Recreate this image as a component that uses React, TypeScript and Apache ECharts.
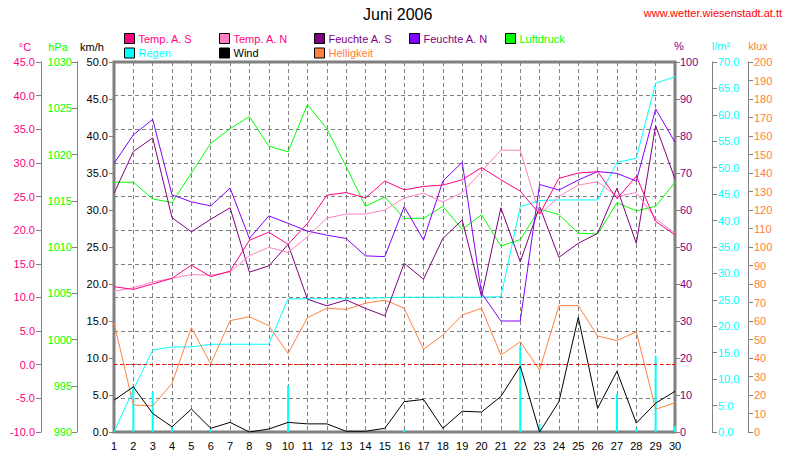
import React, { useEffect, useRef } from "react";
import * as echarts from "echarts";

const days = ["1","2","3","4","5","6","7","8","9","10","11","12","13","14","15","16","17","18","19","20","21","22","23","24","25","26","27","28","29","30"];

const tempAS = [11.6, 11.2, 12.0, 12.85, 14.8, 13.1, 13.9, 18.5, 19.7, 17.9, 21.0, 25.2, 25.6, 24.8, 27.3, 26.0, 26.5, 26.7, 27.5, 29.3, 27.5, 25.8, 22.4, 27.7, 28.5, 28.7, 24.7, 28.0, 21.3, 19.3];
const tempAN = [10.9, 11.45, 12.3, 12.85, 13.4, 13.3, 13.8, 16.2, 17.45, 16.7, 19.0, 21.8, 22.4, 22.4, 23.0, 24.8, 25.5, 24.2, 25.6, 28.7, 31.9, 31.9, 22.3, 25.0, 26.7, 27.2, 25.0, 25.6, 21.7, 19.5];
const feuchteAS = [64.5, 75.8, 79.5, 57.9, 54.1, 57.5, 60.6, 43.2, 44.9, 50.7, 35.9, 34.1, 35.7, 33.4, 31.4, 45.6, 41.3, 52.3, 57.3, 36.6, 60.6, 46.0, 60.9, 47.2, 51.0, 53.7, 65.9, 51.0, 82.8, 68.4];
const feuchteAN = [72.6, 80.3, 84.5, 64.1, 62.2, 61.1, 65.9, 52.3, 58.4, 56.4, 54.3, 53.2, 52.3, 47.6, 47.4, 60.9, 51.9, 67.8, 72.9, 37.5, 30.0, 30.0, 66.9, 65.4, 68.1, 70.4, 69.9, 67.8, 87.3, 78.3];
const luftdruck = [1017.0, 1017.0, 1015.2, 1014.8, 1018.0, 1021.2, 1022.8, 1024.1, 1020.9, 1020.3, 1025.4, 1022.8, 1018.7, 1014.4, 1015.4, 1013.1, 1013.1, 1014.4, 1011.9, 1013.5, 1010.1, 1010.8, 1014.1, 1013.5, 1011.5, 1011.4, 1014.8, 1013.9, 1014.4, 1017.0];
const regenSumme = [0, 8.0, 15.5, 16.1, 16.1, 16.6, 16.6, 16.6, 16.6, 25.2, 25.2, 25.2, 25.2, 25.3, 25.4, 25.5, 25.5, 25.5, 25.5, 25.5, 25.6, 42.6, 43.8, 43.9, 43.9, 43.9, 51.0, 51.8, 66.0, 67.2];
const regenTag = [0, 8.6, 7.6, 0.9, 0, 0.5, 0, 0, 0, 8.8, 0, 0, 0, 0, 0, 0.4, 0, 0, 0, 0, 0, 16.3, 1.5, 0, 0, 0, 7.2, 0.8, 14.4, 1.1];
const wind = [4.3, 6.1, 2.5, 0.7, 3.1, 0.5, 1.3, 0, 0.4, 1.3, 1.1, 1.1, 0.1, 0.1, 0.5, 4.1, 4.4, 0.5, 2.8, 2.7, 4.8, 8.9, 0, 4.1, 15.5, 3.2, 8.2, 1.2, 3.9, 5.5];
const helligkeit = [59.1, 14.6, 14.1, 26.3, 56.4, 36.8, 60.2, 62.3, 57.5, 42.5, 61.8, 66.9, 66.3, 69.6, 71.3, 66.9, 44.7, 52.4, 63.2, 66.9, 41.6, 48.8, 33.5, 68.3, 68.3, 51.9, 49.4, 54.2, 12.3, 15.8];

const FONT = "'Liberation Sans', Arial, sans-serif";
const GRAY = "#808080";
const C = {
  tempS: "#ff0080",
  tempN: "#ff80c0",
  feuchteS: "#800080",
  feuchteN: "#8000ff",
  luft: "#00ff00",
  regen: "#00ffff",
  wind: "#000000",
  hell: "#ff8040",
};

function yAx(opts: any) {
  const { min, max, interval, color, position, offset, decimals, showLine, split, margin } = opts;
  return {
    type: "value",
    position,
    offset,
    min,
    max,
    interval,
    axisLine: { show: showLine, lineStyle: { color: GRAY, width: 1 } },
    axisTick: { show: true, length: 5, lineStyle: { color: GRAY, width: 1 } },
    axisLabel: {
      color,
      fontSize: 11,
      fontFamily: FONT,
      margin,
      formatter: (v: number) => v.toFixed(decimals),
    },
    splitLine: split
      ? { show: true, lineStyle: { color: GRAY, type: [4, 3], width: 1 } }
      : { show: false },
  };
}

function legendItem(name: string, left: number, top: number, color: string) {
  return {
    data: [name],
    left,
    top,
    padding: 0,
    icon: "rect",
    itemWidth: 10,
    itemHeight: 10,
    itemGap: 0,
    selectedMode: false,
    itemStyle: { borderColor: "#000", borderWidth: 1 },
    textStyle: { color, fontSize: 11, fontFamily: FONT, padding: [0, 0, 0, -1] },
  };
}

function txt(text: string, x: number, y: number, fill: string, align = "center", size = 11) {
  return {
    type: "text",
    x,
    y,
    silent: true,
    style: { text, fill, fontSize: size, fontFamily: FONT, align, verticalAlign: "middle", textAlign: align, textVerticalAlign: "middle" },
  };
}

function line(name: string, data: number[], color: string, yAxisIndex: number, extra: any = {}) {
  return {
    name,
    type: "line",
    data,
    yAxisIndex,
    color,
    symbol: "none",
    lineStyle: { color, width: 1 },
    ...extra,
  };
}

export default function App() {
  const ref = useRef<HTMLDivElement>(null);
  useEffect(() => {
    if (!ref.current) return;
    const chart = echarts.init(ref.current, undefined, { renderer: "svg" });
    const option: any = {
      animation: false,
      backgroundColor: "#ffffff",
      title: {
        text: "Juni 2006",
        left: 363,
        top: 6,
        padding: 0,
        textStyle: { fontSize: 16, fontWeight: "normal", color: "#000", fontFamily: FONT },
      },
      legend: [
        legendItem("Temp. A. S", 124, 33, C.tempS),
        legendItem("Temp. A. N", 219, 33, C.tempS),
        legendItem("Feuchte A. S", 314, 33, C.feuchteS),
        legendItem("Feuchte A. N", 409, 33, C.feuchteS),
        legendItem("Luftdruck", 505, 33, C.luft),
        legendItem("Regen", 124, 47.5, C.regen),
        legendItem("Wind", 219, 47.5, C.wind),
        legendItem("Helligkeit", 314, 47.5, C.hell),
      ],
      graphic: {
        elements: [
          txt("www.wetter.wiesenstadt.at.tt", 782, 12.5, "#ff0000", "right"),
          txt("°C", 25, 47, C.tempS),
          txt("hPa", 58, 47, C.luft),
          txt("km/h", 92, 47, "#000"),
          txt("%", 679, 46, C.feuchteS),
          txt("l/m²", 721, 46, C.regen),
          txt("klux", 758, 46, C.hell),
        ],
      },
      grid: {
        left: 114,
        right: 115,
        top: 62,
        bottom: 28,
        show: true,
        borderColor: GRAY,
        borderWidth: 3,
        backgroundColor: "transparent",
      },
      xAxis: {
        type: "category",
        data: days,
        boundaryGap: false,
        axisLine: { show: false },
        axisTick: { show: false, interval: 0 },
        axisLabel: { color: "#000", fontSize: 11, fontFamily: FONT, margin: 8, interval: 0 },
        splitLine: { show: true, interval: 0, lineStyle: { color: GRAY, type: [4, 3], width: 1 } },
      },
      yAxis: [
        yAx({ min: 0, max: 50, interval: 5, color: "#000", position: "left", offset: 0, decimals: 1, showLine: false, split: false, margin: 6 }),
        yAx({ min: 990, max: 1030, interval: 5, color: C.luft, position: "left", offset: 37, decimals: 0, showLine: true, split: false, margin: 5 }),
        yAx({ min: -10, max: 45, interval: 5, color: C.tempS, position: "left", offset: 73, decimals: 1, showLine: true, split: true, margin: 6 }),
        yAx({ min: 0, max: 100, interval: 10, color: C.feuchteS, position: "right", offset: 0, decimals: 0, showLine: false, split: false, margin: 5 }),
        yAx({ min: 0, max: 70, interval: 5, color: C.regen, position: "right", offset: 37, decimals: 1, showLine: true, split: false, margin: 6 }),
        yAx({ min: 0, max: 200, interval: 10, color: C.hell, position: "right", offset: 73, decimals: 0, showLine: true, split: false, margin: 6 }),
      ],
      series: [
        { name: "Regen", type: "bar", data: regenTag, yAxisIndex: 4, barWidth: 2, color: C.regen, itemStyle: { color: C.regen } },
        line("Regen", regenSumme, C.regen, 4),
        line("Helligkeit", helligkeit, C.hell, 5),
        line("Wind", wind, C.wind, 0),
        line("Luftdruck", luftdruck, C.luft, 1),
        line("Feuchte A. S", feuchteAS, C.feuchteS, 3),
        line("Feuchte A. N", feuchteAN, C.feuchteN, 3),
        line("Temp. A. N", tempAN, C.tempN, 2),
        line("Temp. A. S", tempAS, C.tempS, 2, {
          markLine: {
            silent: true,
            symbol: "none",
            label: { show: false },
            lineStyle: { color: "#ff0000", type: [3, 3], width: 1 },
            data: [{ yAxis: 0 }],
          },
        }),
      ],
    };
    chart.setOption(option);
    return () => chart.dispose();
  }, []);
  return (
    <div
      ref={ref}
      style={{ position: "fixed", left: 0, top: 0, width: 790, height: 460, background: "#fff" }}
    />
  );
}
